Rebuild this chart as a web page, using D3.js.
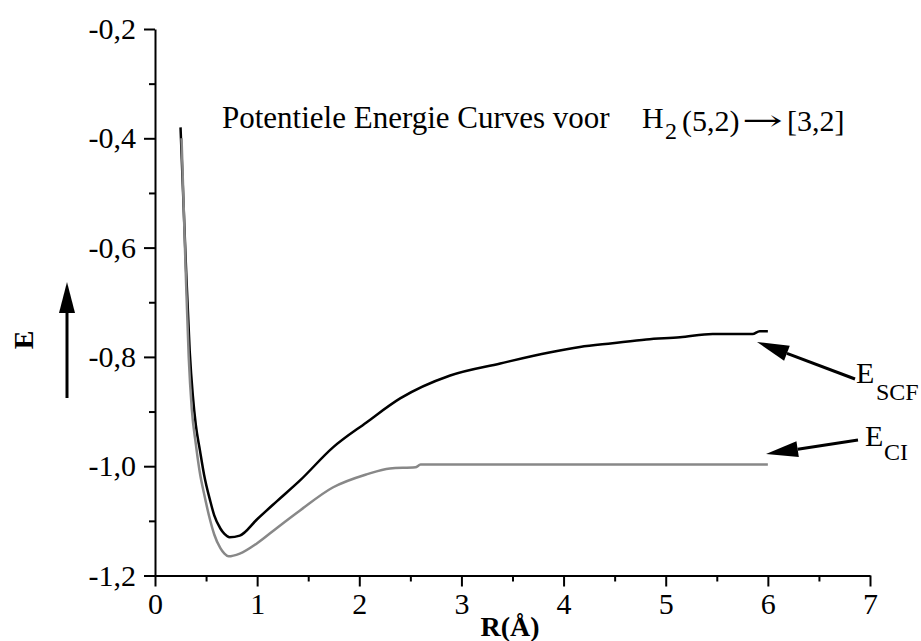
<!DOCTYPE html>
<html><head><meta charset="utf-8">
<script src="https://cdn.jsdelivr.net/npm/d3@7"></script>
<style>
body{margin:0;background:#fff}
svg{display:block}
text{font-family:"Liberation Serif","Times New Roman",serif;fill:#000}
</style>
</head><body>
<svg id="c" width="921" height="641"></svg>
<script>
// ---- data ----
const xTicks = [0, 1, 2, 3, 4, 5, 6, 7];
const xMinor = [0.5, 1.5, 2.5, 3.5, 4.5, 5.5, 6.5];
const yTicks = [-1.2, -1.0, -0.8, -0.6, -0.4, -0.2];
const yMinor = [-1.1, -0.9, -0.7, -0.5, -0.3];

const scfR = [0.25, 0.30, 0.34, 0.37, 0.40, 0.44, 0.48, 0.54, 0.58, 0.64, 0.68, 0.73, 0.83, 1.0, 1.2, 1.42, 1.74, 2.07, 2.4, 2.89, 3.38, 3.86, 4.16, 4.48, 4.81, 5.14, 5.46, 5.85, 5.92, 6.0];
const scfE = [-0.38, -0.62, -0.79, -0.87, -0.925, -0.971, -1.015, -1.063, -1.09, -1.114, -1.124, -1.130, -1.127, -1.097, -1.063, -1.026, -0.966, -0.92, -0.876, -0.834, -0.812, -0.792, -0.782, -0.775, -0.768, -0.764, -0.758, -0.758, -0.753, -0.753];

const ciR = [0.26, 0.30, 0.33, 0.36, 0.40, 0.44, 0.48, 0.54, 0.58, 0.64, 0.68, 0.72, 0.83, 1.0, 1.2, 1.42, 1.74, 2.07, 2.3, 2.55, 2.6, 6.0];
const ciE = [-0.40, -0.64, -0.80, -0.895, -0.96, -1.013, -1.05, -1.099, -1.125, -1.15, -1.16, -1.165, -1.16, -1.141, -1.112, -1.081, -1.039, -1.015, -1.004, -1.002, -0.997, -0.997];

const titleMain = "Potentiele Energie Curves voor";
const xTitle = "R(Å)";
const yTitle = "E";

// ---- chart ----
const svg = d3.select("#c");
const x = d3.scaleLinear().domain([0, 7]).range([155, 870]);
const y = d3.scaleLinear().domain([-1.2, -0.2]).range([575.5, 29]);
const fmt = d => (d < 0 ? "-" : "") + Math.abs(d).toFixed(1).replace(".", ",");

function styleAxis(g){
  g.attr("font-family", '"Liberation Serif","Times New Roman",serif').attr("font-size", 30);
  g.selectAll("path,line").attr("stroke", "#000").attr("stroke-width", 2);
}

// x axis
svg.append("g").attr("transform", `translate(0,${y(-1.2)})`)
  .call(d3.axisBottom(x).tickValues(xTicks).tickSize(11).tickSizeOuter(0).tickPadding(6).tickFormat(d3.format("d")))
  .call(styleAxis);
svg.append("g").attr("transform", `translate(0,${y(-1.2)})`)
  .call(d3.axisBottom(x).tickValues(xMinor).tickSize(6).tickSizeOuter(0).tickFormat(""))
  .call(styleAxis).call(g => g.select(".domain").remove());

// y axis
svg.append("g").attr("transform", `translate(${x(0)},0)`)
  .call(d3.axisLeft(y).tickValues(yTicks).tickSize(11).tickSizeOuter(0).tickPadding(8).tickFormat(fmt))
  .call(styleAxis);
svg.append("g").attr("transform", `translate(${x(0)},0)`)
  .call(d3.axisLeft(y).tickValues(yMinor).tickSize(6).tickSizeOuter(0).tickFormat(""))
  .call(styleAxis).call(g => g.select(".domain").remove());

// curves
const line = d3.line().x(d => x(d[0])).y(d => y(d[1])).curve(d3.curveMonotoneX);
svg.append("path").datum(scfR.map((r, i) => [r, scfE[i]]))
  .attr("d", line).attr("fill", "none").attr("stroke", "#000").attr("stroke-width", 2.5);
svg.append("path").datum(ciR.map((r, i) => [r, ciE[i]]))
  .attr("d", line).attr("fill", "none").attr("stroke", "#888").attr("stroke-width", 2.5);

// arrows
function arrow(x1, y1, x2, y2, len, hw){
  const a = Math.atan2(y2 - y1, x2 - x1);
  const bx = x2 - len * Math.cos(a), by = y2 - len * Math.sin(a);
  svg.append("line").attr("x1", x1).attr("y1", y1).attr("x2", bx).attr("y2", by)
    .attr("stroke", "#000").attr("stroke-width", 3);
  const px = -Math.sin(a) * hw, py = Math.cos(a) * hw;
  svg.append("path").attr("d", `M${x2},${y2}L${bx + px},${by + py}L${bx - px},${by - py}Z`).attr("fill", "#000");
}
arrow(67, 398, 67, 282, 31, 8);
arrow(855, 379, 757, 342, 32, 8);
arrow(858, 440, 766, 454, 32, 8);

// titles
svg.append("text").attr("x", 222).attr("y", 128).attr("font-size", 31).text(titleMain);
svg.append("text").attr("x", 642).attr("y", 128).attr("font-size", 30).text("H");
svg.append("text").attr("x", 665).attr("y", 139).attr("font-size", 24).text("2");
svg.append("text").attr("x", 682).attr("y", 131).attr("font-size", 30).text("(5,2)");
svg.append("text").attr("x", 742).attr("y", 130).attr("font-size", 28)
  .attr("textLength", 41).attr("lengthAdjust", "spacingAndGlyphs")
  .style("font-family", '"DejaVu Serif",serif').text("→");
svg.append("text").attr("x", 787).attr("y", 131).attr("font-size", 30).text("[3,2]");

svg.append("text").attr("x", 510).attr("y", 636).attr("text-anchor", "middle")
  .attr("font-size", 28).attr("font-weight", "bold").text(xTitle);
svg.append("text").attr("transform", "translate(33,340) rotate(-90)").attr("text-anchor", "middle")
  .attr("font-size", 28).attr("font-weight", "bold").text(yTitle);

// annotation labels
svg.append("text").attr("x", 856).attr("y", 383).attr("font-size", 30).text("E");
svg.append("text").attr("x", 876).attr("y", 400).attr("font-size", 24).text("SCF");
svg.append("text").attr("x", 865).attr("y", 446).attr("font-size", 30).text("E");
svg.append("text").attr("x", 884).attr("y", 460).attr("font-size", 24).text("CI");
</script>
</body></html>
